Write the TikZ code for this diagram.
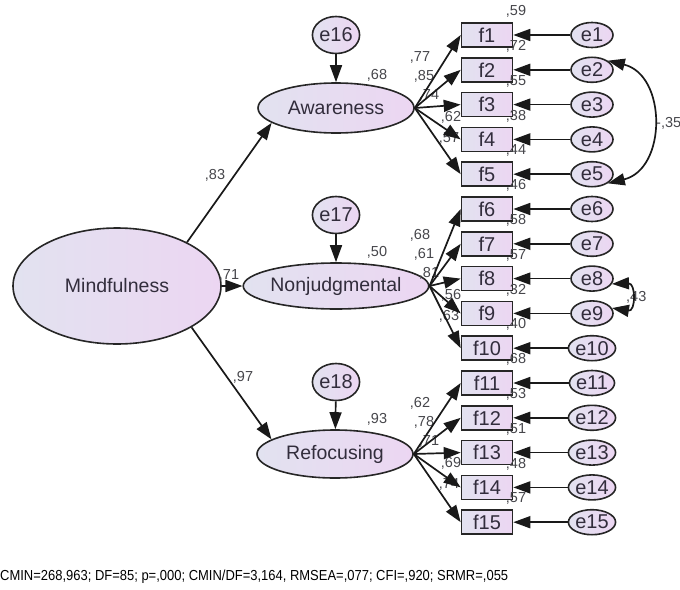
\documentclass[tikz,border=0pt]{standalone}
\usepackage{fontspec}
\setmainfont{Liberation Sans}
\usetikzlibrary{arrows.meta,shapes.geometric}
\definecolor{fillL}{RGB}{226,226,240}
\definecolor{fillR}{RGB}{236,214,242}
\definecolor{ink}{RGB}{50,45,60}
\definecolor{numink}{RGB}{70,70,75}
\begin{document}
\begin{tikzpicture}[x=1pt,y=-1pt,
  lavfill/.style={draw=black!85, line width=1.6pt, left color=fillL, right color=fillR},
  latent/.style={lavfill, ellipse, minimum width=156pt, minimum height=48pt, inner sep=0pt,
    font=\fontsize{19.5}{19.5}\selectfont, text=ink},
  errbig/.style={lavfill, ellipse, minimum width=40pt, minimum height=37pt, inner sep=0pt,
    font=\fontsize{20}{20}\selectfont, text=ink},
  errsmall/.style={lavfill, ellipse, minimum width=42pt, minimum height=25pt, inner sep=0pt,
    font=\fontsize{20}{20}\selectfont, text=ink},
  obs/.style={lavfill, rectangle, minimum width=51pt, minimum height=24pt, inner sep=0pt,
    font=\fontsize{20}{20}\selectfont, text=ink},
  arr/.style={draw=black!90, line width=1.7pt, -{Triangle[length=17pt,width=12pt]}},
  dblarr/.style={draw=black!90, line width=1.7pt, {Triangle[length=17pt,width=12pt]}-{Triangle[length=17pt,width=12pt]}},
  coef/.style={font=\fontsize{14.5}{14.5}\selectfont, text=numink, inner sep=0pt},
]
\useasboundingbox (0,0) rectangle (680,589);

% latent variables
\node[latent, minimum width=208pt, minimum height=116pt] (M) at (117,286) {Mindfulness};
\node[latent, minimum height=50pt] (A) at (336,108) {Awareness};
\node[latent, minimum height=46pt] (N) at (336,286) {Nonjudgmental};
\node[latent] (R) at (335,454) {Refocusing};

% disturbances of the first-order factors
\node[errbig] (e16) at (336,35) {e16};
\node[errbig] (e17) at (336,215) {e17};
\node[errbig] (e18) at (336,382) {e18};

% items, their errors and squared multiple correlations
\foreach \i/\r in {1/59,2/72,3/55,4/38,5/44,6/46,7/58,8/57,9/32,10/40,11/68,12/53,13/51,14/48,15/57}{
  \pgfmathsetmacro\yy{35+34.8*(\i-1)}
  \node[obs] (f\i) at (487,\yy) {f\i};
  \node[errsmall] (e\i) at (592,\yy) {e\i};
  \node[coef] at (516,\yy-23.5) {,\r};
}

% loadings
\foreach \c/\la/\lb/\lc/\ld/\le in {108/77/85/74/62/57, 286/68/61/81/56/63, 454/62/78/71/69/74}{
  \node[coef] at (420,\c-51) {,\la};
  \node[coef] at (424,\c-32) {,\lb};
  \node[coef] at (429,\c-13) {,\lc};
  \node[coef] at (451,\c+9) {,\ld};
  \node[coef] at (449,\c+30) {,\le};
}

% structural coefficients and R-squared of factors
\node[coef] at (215,175) {,83};
\node[coef] at (229,275) {,71};
\node[coef] at (243,377) {,97};
\node[coef] at (377,75) {,68};
\node[coef] at (377,252) {,50};
\node[coef] at (377,419) {,93};

% covariance labels
\node[coef, anchor=west] at (656,123) {-,35};
\node[coef, anchor=west] at (626,297) {,43};

% error paths
\foreach \i in {1,...,15}{
  \draw[arr] (e\i) -- (f\i);
}
\draw[arr] (e16) -- (A);
\draw[arr] (e17) -- (N);
\draw[arr] (e18) -- (R);

% factor loadings
\foreach \i in {1,...,5}{ \draw[arr] (A.east) -- (f\i.west); }
\foreach \i in {6,...,10}{ \draw[arr] (N.east) -- (f\i.west); }
\foreach \i in {11,...,15}{ \draw[arr] (R.east) -- (f\i.west); }

% second-order paths
\draw[arr] (M.32) -- (A.193);
\draw[arr] (M.east) -- (N.west);
\draw[arr] (M.-29) -- (R.167);

% error covariances
\draw[dblarr] (e2.30) .. controls (667,75) and (667,169) .. (e5.-30);
\draw[dblarr] (e8.-15) .. controls (636,283) and (636,312) .. (e9.15);

% fit indices
\node[anchor=west, inner sep=0pt, text=black] (fit) at (0,577)
  {\resizebox{508pt}{10.5pt}{CMIN=268,963; DF=85; p=,000; CMIN/DF=3,164, RMSEA=,077; CFI=,920; SRMR=,055}};
\end{tikzpicture}
\end{document}
